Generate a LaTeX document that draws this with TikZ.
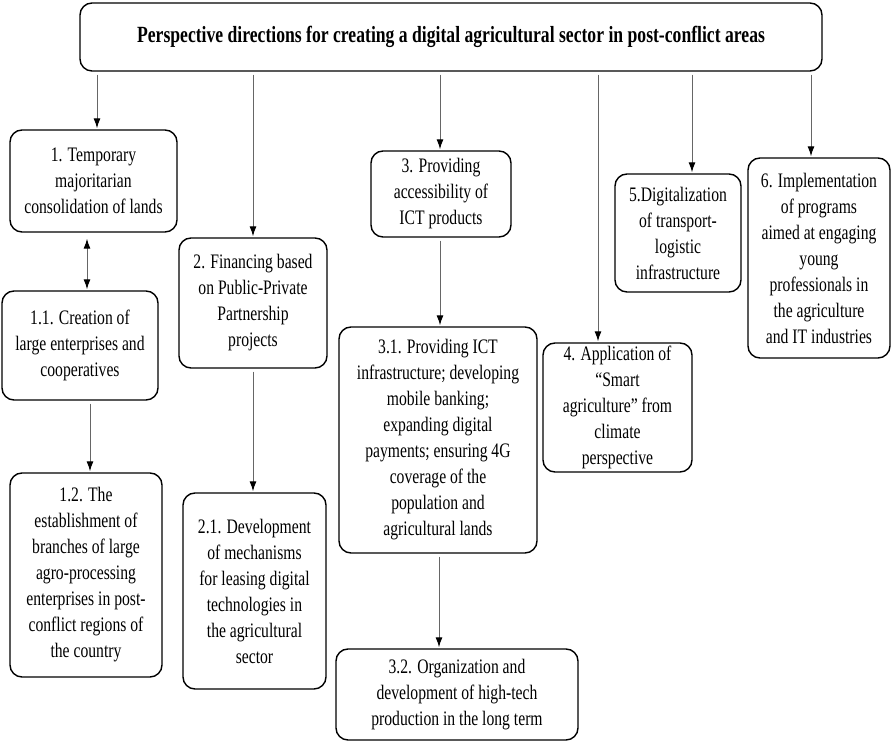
\documentclass[tikz,border=0pt]{standalone}
\usepackage{fontspec}
\setmainfont{Liberation Serif}[FakeStretch=0.76]
\usepackage{tikz}
\usetikzlibrary{calc,arrows.meta,positioning}
\tikzset{>={Latex[length=5pt,width=3.5pt,color=black]}}

\begin{document}
\begin{tikzpicture}[x=0.5pt, y=-0.5pt,
  box/.style={draw, rounded corners=6pt, line width=0.7pt, align=center, inner sep=0pt, font=\fontsize{10.3}{13}\selectfont},
  arr/.style={->, draw=black!60, line width=0.5pt, shorten <=1.5pt, shorten >=0.5pt}]
\useasboundingbox (0,0) rectangle (891,742);
\node[box, minimum width=371pt, minimum height=34pt, font=\fontsize{11.6}{13}\selectfont\bfseries] (top) at (451,37)
  {Perspective directions for creating a digital agricultural sector in post-conflict areas};
\node[box, minimum width=83.5pt, minimum height=51pt] (b1) at (93.5,181)
  {1. Temporary\\ majoritarian\\ consolidation of lands};
\node[box, minimum width=78pt, minimum height=54.5pt] (b11) at (80,345.5)
  {1.1. Creation of\\ large enterprises and\\ cooperatives};
\node[box, minimum width=76pt, minimum height=102pt] (b12) at (86,575)
  {1.2. The\\ establishment of\\ branches of large\\ agro-processing\\ enterprises in post-\\ conflict regions of\\ the country};
\node[box, minimum width=74pt, minimum height=65pt] (b2) at (253,303)
  {2. Financing based\\ on Public-Private\\ Partnership\\ projects};
\node[box, minimum width=71.5pt, minimum height=98pt] (b21) at (254.5,591)
  {2.1. Development\\ of mechanisms\\ for leasing digital\\ technologies in\\ the agricultural\\ sector};
\node[box, minimum width=70pt, minimum height=43pt] (b3) at (441,194)
  {3. Providing\\ accessibility of\\ ICT products};
\node[box, minimum width=99pt, minimum height=113pt] (b31) at (438,440)
  {3.1. Providing ICT\\ infrastructure; developing\\ mobile banking;\\ expanding digital\\ payments; ensuring 4G\\ coverage of the\\ population and\\ agricultural lands};
\node[box, minimum width=121pt, minimum height=45.5pt] (b32) at (457,694.5)
  {3.2. Organization and\\ development of high-tech\\ production in the long term};
\node[box, minimum width=74.5pt, minimum height=64.5pt] (b4) at (617.5,407.5)
  {4. Application of\\ “Smart\\ agriculture” from\\ climate\\ perspective};
\node[box, minimum width=63pt, minimum height=59pt] (b5) at (678,233)
  {5.Digitalization\\ of transport-\\ logistic\\ infrastructure};
\node[box, minimum width=71pt, minimum height=100pt] (b6) at (819,258)
  {6. Implementation\\ of programs\\ aimed at engaging\\ young\\ professionals in\\ the agriculture\\ and IT industries};
\draw[arr] ([xshift=1.75pt]b1.north |- top.south) -- ([xshift=1.75pt]b1.north);
\draw[arr] (b2.north |- top.south) -- (b2.north);
\draw[arr] ([xshift=-0.5pt]b3.north |- top.south) -- ([xshift=-0.5pt]b3.north);
\draw[arr] ([xshift=-9.75pt]b4.north |- top.south) -- ([xshift=-9.75pt]b4.north);
\draw[arr] ([xshift=7pt]b5.north |- top.south) -- ([xshift=7pt]b5.north);
\draw[arr] ([xshift=-4pt]b6.north |- top.south) -- ([xshift=-4pt]b6.north);
\draw[arr, <->, shorten <=3pt] ([xshift=-3.25pt]b1.south) -- ([xshift=3.5pt]b11.north);
\draw[arr] ([xshift=5pt]b11.south) -- ([xshift=2pt]b12.north);
\draw[arr] (b2.south) -- ([xshift=-0.75pt]b21.north);
\draw[arr] ([xshift=-0.5pt]b3.south) -- ([xshift=1pt]b31.north);
\draw[arr] ([xshift=0.5pt]b31.south) -- ([xshift=-9pt]b32.north);
\end{tikzpicture}
\end{document}
